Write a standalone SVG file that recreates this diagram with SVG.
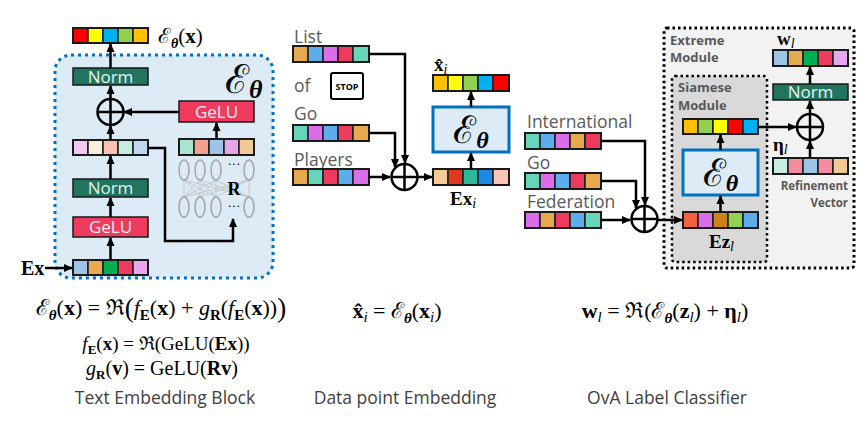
<svg xmlns="http://www.w3.org/2000/svg" width="867" height="425" viewBox="0 0 867 425">
<style>
.c{stroke:#1a1a1a;stroke-width:1.5}
.o{fill:none;stroke:#1a1a1a;stroke-width:2}
.ar{fill:none;stroke:#000;stroke-width:2.5;marker-end:url(#ah)}
.lbl{font-family:'Open Sans','Noto Sans',sans-serif;font-size:17.5px;fill:#595959}
.cap{font-family:'Open Sans','Noto Sans',sans-serif;font-size:17.5px;fill:#404040}
.btxt{font-family:'Open Sans','Noto Sans',sans-serif;font-size:17px;fill:#E6F2EE}
.mod{font-family:'Open Sans','Noto Sans',sans-serif;font-weight:bold;fill:#595959}
.m{font-family:'Liberation Serif','DejaVu Serif',serif;fill:#000}
.b{font-weight:bold}
.i{font-style:italic}
.bi{font-weight:bold;font-style:italic}
.norm{fill:#21755F;stroke:#1a1a1a;stroke-width:1.5}
.gelu{fill:#EF3B5F;stroke:#1a1a1a;stroke-width:1.5}
.eb{fill:#DDEBF7;stroke:#0070C0;stroke-width:3}
.plus{fill:none;stroke:#000;stroke-width:2.5}
.nn{fill:none;stroke:#A6A6A6;stroke-width:1.5}
.nl{stroke:#BFBFBF;stroke-width:0.8}
</style>
<defs>
<marker id="ah" markerWidth="10" markerHeight="10" refX="8" refY="5" orient="auto" markerUnits="userSpaceOnUse"><path d="M0,1 L9,5 L0,9 z" fill="#000"/></marker>
</defs>

<!-- Text Embedding Block -->
<g id="block-bg">
<rect x="55" y="55" width="218" height="223" rx="16" fill="#DDEBF7" stroke="#0070C0" stroke-width="3" stroke-dasharray="3 4"/>
<text x="225" y="93" class="m" font-size="40">ℰ<tspan class="bi" font-size="26" dy="5">θ</tspan></text>
</g>
<g id="out-vec">
<rect x="73" y="28" width="15" height="15" fill="#FF0000" class="c"/>
<rect x="88" y="28" width="15" height="15" fill="#FFFF00" class="c"/>
<rect x="103" y="28" width="15" height="15" fill="#00B0F0" class="c"/>
<rect x="118" y="28" width="15" height="15" fill="#92D050" class="c"/>
<rect x="133" y="28" width="15" height="15" fill="#FFC000" class="c"/>
<rect x="73" y="28" width="75" height="15" class="o"/>
<text x="158" y="43" class="m" font-size="21">ℰ<tspan class="bi" font-size="14" dy="5">θ</tspan><tspan dy="-5">(</tspan><tspan class="b">x</tspan>)</text>
</g>
<g id="norm1"><rect x="73" y="68" width="75" height="17" class="norm"/><text x="110.5" y="82.5" text-anchor="middle" class="btxt">Norm</text></g>
<g id="plus1"><circle cx="110.5" cy="112" r="13" class="plus"/><path d="M97.5,112 H123.5 M110.5,99 V125" class="plus"/></g>
<g id="gelu-r"><rect x="179" y="101" width="75" height="21" class="gelu"/><text x="216.5" y="117.5" text-anchor="middle" class="btxt">GeLU</text></g>
<g id="mid-vec">
<rect x="73" y="140" width="15" height="15" fill="#F0C8F0" class="c"/>
<rect x="88" y="140" width="15" height="15" fill="#FBEEDD" class="c"/>
<rect x="103" y="140" width="15" height="15" fill="#F9C2B5" class="c"/>
<rect x="118" y="140" width="15" height="15" fill="#C6EDE0" class="c"/>
<rect x="133" y="140" width="15" height="15" fill="#BDD7EE" class="c"/>
<rect x="73" y="140" width="75" height="15" class="o"/>
</g>
<g id="r-vec">
<rect x="179" y="139" width="15" height="16" fill="#A9E5D2" class="c"/>
<rect x="194" y="139" width="15" height="16" fill="#F4A090" class="c"/>
<rect x="209" y="139" width="15" height="16" fill="#9DC3E6" class="c"/>
<rect x="224" y="139" width="15" height="16" fill="#E5A7EA" class="c"/>
<rect x="239" y="139" width="15" height="16" fill="#F0C994" class="c"/>
<rect x="179" y="139" width="75" height="16" class="o"/>
</g>
<g id="net-R">
<g class="nl">
<line x1="184" y1="180" x2="184" y2="197"/><line x1="184" y1="180" x2="200" y2="197"/><line x1="184" y1="180" x2="216" y2="197"/><line x1="184" y1="180" x2="249" y2="197"/>
<line x1="200" y1="180" x2="184" y2="197"/><line x1="200" y1="180" x2="200" y2="197"/><line x1="200" y1="180" x2="216" y2="197"/><line x1="200" y1="180" x2="249" y2="197"/>
<line x1="216" y1="180" x2="184" y2="197"/><line x1="216" y1="180" x2="200" y2="197"/><line x1="216" y1="180" x2="216" y2="197"/><line x1="216" y1="180" x2="249" y2="197"/>
<line x1="249" y1="180" x2="184" y2="197"/><line x1="249" y1="180" x2="200" y2="197"/><line x1="249" y1="180" x2="216" y2="197"/><line x1="249" y1="180" x2="249" y2="197"/>
</g>
<ellipse cx="184" cy="170" rx="5" ry="10" class="nn"/><ellipse cx="200" cy="170" rx="5" ry="10" class="nn"/><ellipse cx="216" cy="170" rx="5" ry="10" class="nn"/><ellipse cx="249" cy="170" rx="5" ry="10" class="nn"/>
<ellipse cx="184" cy="207" rx="5" ry="10" class="nn"/><ellipse cx="200" cy="207" rx="5" ry="10" class="nn"/><ellipse cx="216" cy="207" rx="5" ry="10" class="nn"/><ellipse cx="249" cy="207" rx="5" ry="10" class="nn"/>
<text x="234" y="168" text-anchor="middle" class="m" font-size="13">···</text>
<text x="234" y="195" text-anchor="middle" class="m b" font-size="18">R</text>
<text x="234" y="210" text-anchor="middle" class="m" font-size="13">···</text>
</g>
<g id="norm2"><rect x="73" y="179" width="75" height="18" class="norm"/><text x="110.5" y="194" text-anchor="middle" class="btxt">Norm</text></g>
<g id="gelu2"><rect x="73" y="217" width="75" height="20" class="gelu"/><text x="110.5" y="233" text-anchor="middle" class="btxt">GeLU</text></g>
<g id="ex-vec">
<rect x="73" y="260" width="15" height="15" fill="#9DC3E6" class="c"/>
<rect x="88" y="260" width="15" height="15" fill="#E8A94F" class="c"/>
<rect x="103" y="260" width="15" height="15" fill="#00B050" class="c"/>
<rect x="118" y="260" width="15" height="15" fill="#EE3A5F" class="c"/>
<rect x="133" y="260" width="15" height="15" fill="#E6A7EE" class="c"/>
<rect x="73" y="260" width="75" height="15" class="o"/>
<text x="21" y="275" class="m b" font-size="20">Ex</text>
</g>

<!-- Data point Embedding -->
<g id="list">
<text x="294" y="43" class="lbl">List</text>
<rect x="293" y="46" width="15" height="16" fill="#E6A94E" class="c"/>
<rect x="308" y="46" width="15" height="16" fill="#5DADEC" class="c"/>
<rect x="323" y="46" width="15" height="16" fill="#D96EE8" class="c"/>
<rect x="338" y="46" width="15" height="16" fill="#EE3A5F" class="c"/>
<rect x="353" y="46" width="16" height="16" fill="#66D5B9" class="c"/>
<rect x="293" y="46" width="76" height="16" class="o"/>
</g>
<g id="of">
<text x="294" y="92" class="lbl">of</text>
<rect x="331" y="73" width="32" height="26" rx="2" fill="#fff" stroke="#000" stroke-width="2"/>
<text x="347" y="90" text-anchor="middle" font-family="'Open Sans','Noto Sans',sans-serif" font-size="9" font-weight="bold">STOP</text>
</g>
<g id="go1">
<text x="294" y="120" class="lbl">Go</text>
<rect x="293" y="125" width="15" height="16" fill="#66D5B9" class="c"/>
<rect x="308" y="125" width="15" height="16" fill="#D96EE8" class="c"/>
<rect x="323" y="125" width="15" height="16" fill="#5DADEC" class="c"/>
<rect x="338" y="125" width="15" height="16" fill="#EE3A5F" class="c"/>
<rect x="353" y="125" width="16" height="16" fill="#E6A94E" class="c"/>
<rect x="293" y="125" width="76" height="16" class="o"/>
</g>
<g id="players">
<text x="294" y="166" class="lbl">Players</text>
<rect x="293" y="169" width="15" height="16" fill="#E6A94E" class="c"/>
<rect x="308" y="169" width="15" height="16" fill="#66D5B9" class="c"/>
<rect x="323" y="169" width="15" height="16" fill="#EE3A5F" class="c"/>
<rect x="338" y="169" width="15" height="16" fill="#5DADEC" class="c"/>
<rect x="353" y="169" width="16" height="16" fill="#D96EE8" class="c"/>
<rect x="293" y="169" width="76" height="16" class="o"/>
</g>
<g id="plus2"><circle cx="404.5" cy="177" r="13" class="plus"/><path d="M391.5,177 H417.5 M404.5,164 V190" class="plus"/></g>
<g id="exi-vec">
<rect x="433" y="169" width="15" height="16" fill="#F4CB94" class="c"/>
<rect x="448" y="169" width="15" height="16" fill="#E03A1E" class="c"/>
<rect x="463" y="169" width="15" height="16" fill="#2EB89A" class="c"/>
<rect x="478" y="169" width="15" height="16" fill="#1E88E5" class="c"/>
<rect x="493" y="169" width="16" height="16" fill="#F8C4B4" class="c"/>
<rect x="433" y="169" width="76" height="16" class="o"/>
<text x="450" y="205" class="m b" font-size="19">Ex<tspan class="i" font-weight="normal" font-size="14" dy="3">i</tspan></text>
</g>
<g id="enc-mid">
<rect x="433" y="107" width="76" height="45" class="eb"/>
<text x="471" y="143" text-anchor="middle" class="m" font-size="38">ℰ<tspan class="bi" font-size="24" dy="5">θ</tspan></text>
</g>
<g id="xhat-vec">
<rect x="433" y="75" width="15" height="16" fill="#FFC000" class="c"/>
<rect x="448" y="75" width="15" height="16" fill="#FFFF00" class="c"/>
<rect x="463" y="75" width="15" height="16" fill="#92D050" class="c"/>
<rect x="478" y="75" width="15" height="16" fill="#00B0F0" class="c"/>
<rect x="493" y="75" width="16" height="16" fill="#FF0000" class="c"/>
<rect x="433" y="75" width="76" height="16" class="o"/>
<text x="434" y="71" class="m b" font-size="19">x̂<tspan class="i" font-weight="normal" font-size="14" dy="3">i</tspan></text>
</g>

<!-- OvA Label Classifier -->
<g id="extreme">
<rect x="664" y="28" width="190" height="240" rx="3" fill="#F2F2F2" stroke="#000" stroke-width="3" stroke-dasharray="2.5 3"/>
<text x="670" y="45" class="mod" font-size="13">Extreme</text>
<text x="670" y="62" class="mod" font-size="13">Module</text>
</g>
<g id="siamese">
<rect x="672" y="76" width="95" height="186" rx="3" fill="#D9D9D9" stroke="#000" stroke-width="2.5" stroke-dasharray="2.5 3"/>
<text x="678" y="92" class="mod" font-size="13">Siamese</text>
<text x="678" y="110" class="mod" font-size="13">Module</text>
</g>
<g id="sia-out">
<rect x="683" y="119" width="15" height="15" fill="#FFC000" class="c"/>
<rect x="698" y="119" width="15" height="15" fill="#92D050" class="c"/>
<rect x="713" y="119" width="15" height="15" fill="#FFFF00" class="c"/>
<rect x="728" y="119" width="15" height="15" fill="#FF0000" class="c"/>
<rect x="743" y="119" width="15" height="15" fill="#00B0F0" class="c"/>
<rect x="683" y="119" width="75" height="15" class="o"/>
</g>
<g id="enc-right">
<rect x="683" y="150" width="75" height="45" class="eb"/>
<text x="720.5" y="186" text-anchor="middle" class="m" font-size="38">ℰ<tspan class="bi" font-size="24" dy="5">θ</tspan></text>
</g>
<g id="ez-vec">
<rect x="683" y="212" width="15" height="16" fill="#F4623F" class="c"/>
<rect x="698" y="212" width="15" height="16" fill="#D96EE8" class="c"/>
<rect x="713" y="212" width="15" height="16" fill="#CC8418" class="c"/>
<rect x="728" y="212" width="15" height="16" fill="#92D050" class="c"/>
<rect x="743" y="212" width="15" height="16" fill="#5DADEC" class="c"/>
<rect x="683" y="212" width="75" height="16" class="o"/>
<text x="709" y="248" class="m b" font-size="19">Ez<tspan class="i" font-weight="normal" font-size="14" dy="3">l</tspan></text>
</g>
<g id="plus4"><circle cx="810" cy="127" r="13" class="plus"/><path d="M797,127 H823 M810,114 V140" class="plus"/></g>
<g id="norm3"><rect x="773" y="84" width="75" height="16" class="norm"/><text x="810.5" y="98" text-anchor="middle" class="btxt">Norm</text></g>
<g id="wl-vec">
<rect x="773" y="50" width="15" height="16" fill="#9DC3E6" class="c"/>
<rect x="788" y="50" width="15" height="16" fill="#E6A94E" class="c"/>
<rect x="803" y="50" width="15" height="16" fill="#00B050" class="c"/>
<rect x="818" y="50" width="15" height="16" fill="#EE3A5F" class="c"/>
<rect x="833" y="50" width="15" height="16" fill="#E6A7EE" class="c"/>
<rect x="773" y="50" width="75" height="16" class="o"/>
<text x="777" y="45" class="m b" font-size="19">w<tspan class="i" font-weight="normal" font-size="14" dy="3">l</tspan></text>
</g>
<g id="eta-vec">
<rect x="773" y="158" width="15" height="16" fill="#C6EDE0" class="c"/>
<rect x="788" y="158" width="15" height="16" fill="#F48CA0" class="c"/>
<rect x="803" y="158" width="15" height="16" fill="#9DC3E6" class="c"/>
<rect x="818" y="158" width="15" height="16" fill="#F48CA0" class="c"/>
<rect x="833" y="158" width="15" height="16" fill="#F0C994" class="c"/>
<rect x="773" y="158" width="75" height="16" class="o"/>
<text x="773" y="151" class="m b" font-size="19">η<tspan class="i" font-weight="normal" font-size="14" dy="3">l</tspan></text>
<text x="848" y="190" text-anchor="end" class="mod" font-size="11.5" fill="#404040">Refinement</text>
<text x="848" y="207" text-anchor="end" class="mod" font-size="11.5" fill="#404040">Vector</text>
</g>
<g id="international">
<text x="527" y="128" class="lbl">International</text>
<rect x="525" y="133" width="15" height="16" fill="#66D5B9" class="c"/>
<rect x="540" y="133" width="15" height="16" fill="#5DADEC" class="c"/>
<rect x="555" y="133" width="15" height="16" fill="#D96EE8" class="c"/>
<rect x="570" y="133" width="15" height="16" fill="#E6A94E" class="c"/>
<rect x="585" y="133" width="16" height="16" fill="#EE3A5F" class="c"/>
<rect x="525" y="133" width="76" height="16" class="o"/>
</g>
<g id="go2">
<text x="527" y="169" class="lbl">Go</text>
<rect x="525" y="173" width="15" height="16" fill="#66D5B9" class="c"/>
<rect x="540" y="173" width="15" height="16" fill="#D96EE8" class="c"/>
<rect x="555" y="173" width="15" height="16" fill="#5DADEC" class="c"/>
<rect x="570" y="173" width="15" height="16" fill="#EE3A5F" class="c"/>
<rect x="585" y="173" width="16" height="16" fill="#E6A94E" class="c"/>
<rect x="525" y="173" width="76" height="16" class="o"/>
</g>
<g id="federation">
<text x="527" y="208" class="lbl">Federation</text>
<rect x="525" y="212" width="15" height="16" fill="#D96EE8" class="c"/>
<rect x="540" y="212" width="15" height="16" fill="#E6A94E" class="c"/>
<rect x="555" y="212" width="15" height="16" fill="#EE3A5F" class="c"/>
<rect x="570" y="212" width="15" height="16" fill="#5DADEC" class="c"/>
<rect x="585" y="212" width="16" height="16" fill="#66D5B9" class="c"/>
<rect x="525" y="212" width="76" height="16" class="o"/>
</g>
<g id="plus3"><circle cx="644.5" cy="219" r="13" class="plus"/><path d="M631.5,219 H657.5 M644.5,206 V232" class="plus"/></g>

<!-- connectors -->
<g id="connectors">
<line x1="110.5" y1="260" x2="110.5" y2="238" class="ar"/>
<line x1="110.5" y1="217" x2="110.5" y2="198" class="ar"/>
<line x1="110.5" y1="179" x2="110.5" y2="156" class="ar"/>
<line x1="110.5" y1="140" x2="110.5" y2="126" class="ar"/>
<line x1="110.5" y1="99" x2="110.5" y2="86" class="ar"/>
<line x1="110.5" y1="68" x2="110.5" y2="44" class="ar"/>
<line x1="179" y1="112" x2="124" y2="112" class="ar"/>
<line x1="216.5" y1="139" x2="216.5" y2="123" class="ar"/>
<polyline points="148,148 165,148 165,241 233,241 233,219" class="ar"/>
<line x1="45" y1="268" x2="72" y2="268" class="ar"/>
<polyline points="369,54 405,54 405,163" class="ar"/>
<polyline points="369,133 395,133 395,167" class="ar"/>
<line x1="369" y1="177" x2="390" y2="177" class="ar"/>
<line x1="418" y1="177" x2="432" y2="177" class="ar"/>
<line x1="471" y1="169" x2="471" y2="153" class="ar"/>
<line x1="471" y1="107" x2="471" y2="92" class="ar"/>
<polyline points="601,141 645,141 645,205" class="ar"/>
<polyline points="601,181 636,181 636,208" class="ar"/>
<line x1="601" y1="220" x2="630" y2="220" class="ar"/>
<line x1="658" y1="220" x2="682" y2="220" class="ar"/>
<line x1="720.5" y1="212" x2="720.5" y2="196" class="ar"/>
<line x1="720.5" y1="150" x2="720.5" y2="135" class="ar"/>
<line x1="758" y1="127" x2="796" y2="127" class="ar"/>
<line x1="810" y1="158" x2="810" y2="141" class="ar"/>
<line x1="810" y1="114" x2="810" y2="101" class="ar"/>
<line x1="810" y1="84" x2="810" y2="67" class="ar"/>
</g>

<!-- formulas and captions -->
<g id="formulas">
<text x="161" y="315" text-anchor="middle" class="m" font-size="22">ℰ<tspan class="bi" font-size="15" dy="5">θ</tspan><tspan dy="-5">(</tspan><tspan class="b">x</tspan>) = ℜ<tspan font-size="27" dy="2">(</tspan><tspan dy="-2" class="i">f</tspan><tspan class="b" font-size="15" dy="5">E</tspan><tspan dy="-5">(</tspan><tspan class="b">x</tspan>) + <tspan class="i">g</tspan><tspan class="b" font-size="15" dy="5">R</tspan><tspan dy="-5">(</tspan><tspan class="i">f</tspan><tspan class="b" font-size="15" dy="5">E</tspan><tspan dy="-5">(</tspan><tspan class="b">x</tspan>))<tspan font-size="27" dy="2">)</tspan></text>
<text x="166" y="350" text-anchor="middle" class="m" font-size="19"><tspan class="i">f</tspan><tspan class="b" font-size="13" dy="4">E</tspan><tspan dy="-4">(</tspan><tspan class="b">x</tspan>) = ℜ(GeLU(<tspan class="b">Ex</tspan>))</text>
<text x="162" y="375" text-anchor="middle" class="m" font-size="20"><tspan class="i">g</tspan><tspan class="b" font-size="13" dy="4">R</tspan><tspan dy="-4">(</tspan><tspan class="b">v</tspan>) = GeLU(<tspan class="b">Rv</tspan>)</text>
<text x="165" y="404" text-anchor="middle" class="cap">Text Embedding Block</text>
<text x="397" y="318" text-anchor="middle" class="m" font-size="22"><tspan class="b">x̂</tspan><tspan class="i" font-size="15" dy="4">i</tspan><tspan dy="-4"> = ℰ</tspan><tspan class="bi" font-size="15" dy="5">θ</tspan><tspan dy="-5">(</tspan><tspan class="b">x</tspan><tspan class="i" font-size="15" dy="4">i</tspan><tspan dy="-4">)</tspan></text>
<text x="405" y="404" text-anchor="middle" class="cap">Data point Embedding</text>
<text x="665" y="318" text-anchor="middle" class="m" font-size="22"><tspan class="b">w</tspan><tspan class="i" font-size="15" dy="4">l</tspan><tspan dy="-4"> = ℜ(ℰ</tspan><tspan class="bi" font-size="15" dy="5">θ</tspan><tspan dy="-5">(</tspan><tspan class="b">z</tspan><tspan class="i" font-size="15" dy="4">l</tspan><tspan dy="-4">) + </tspan><tspan class="b">η</tspan><tspan class="i" font-size="15" dy="4">l</tspan><tspan dy="-4">)</tspan></text>
<text x="667" y="404" text-anchor="middle" class="cap">OvA Label Classifier</text>
</g>
</svg>
